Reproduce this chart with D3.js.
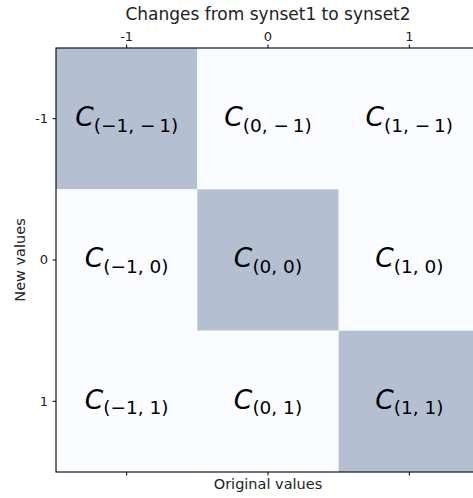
<!DOCTYPE html>
<html>
<head>
<meta charset="utf-8">
<script src="https://cdn.jsdelivr.net/npm/d3@7"></script>
<style>
	body { margin: 0; background: #fff; }
	text { font-family: 'DejaVu Sans', sans-serif; fill: #222; }
	.axis path, .axis line { stroke: #000; }
</style>
</head>
<body>
<svg width="473" height="498"></svg>
<script>
// categories on both axes
const origValues = [-1, 0, 1];
const newValues = [-1, 0, 1];
const tickLabels = ['-1', '0', '1'];
// cell value: 1 on the diagonal (unchanged), 0 otherwise
const cellValues = [
	[1, 0, 0],
	[0, 1, 0],
	[0, 0, 1]
];
const titleText = 'Changes from synset1 to synset2';
const xLabel = 'Original values';
const yLabel = 'New values';

const svg = d3.select('svg');
const margin = {top: 48, left: 56};
const size = 424;

const x = d3.scaleBand().domain(origValues).range([0, size]);
const y = d3.scaleBand().domain(newValues).range([0, size]);
const color = d3.scaleLinear().domain([0, 1]).range(['#fafcff', '#b4bfd2']);

const g = svg.append('g')
	.attr('transform', 'translate(' + margin.left + ',' + margin.top + ')');

const cells = [];
newValues.forEach((nv, i) => {
	origValues.forEach((ov, j) => {
		cells.push({o: ov, n: nv, v: cellValues[i][j]});
	});
});

g.selectAll('rect.cell')
	.data(cells)
	.enter().append('rect')
	.attr('class', 'cell')
	.attr('x', d => x(d.o))
	.attr('y', d => y(d.n))
	.attr('width', x.bandwidth())
	.attr('height', y.bandwidth())
	.attr('fill', d => color(d.v));

// mathtext-like: leading minus is unary, the one after the comma gets operator spacing
const fmt = (v, second) => v < 0 ? (second ? '\u2212\u2009' + (-v) : '\u2212' + (-v)) : String(v);

const labels = g.selectAll('text.cell-label')
	.data(cells)
	.enter().append('text')
	.attr('class', 'cell-label')
	.attr('x', d => x(d.o) + x.bandwidth() / 2)
	.attr('y', d => y(d.n) + y.bandwidth() / 2 + 7.3)
	.attr('text-anchor', 'middle')
	.style('fill', '#000');

labels.append('tspan')
	.style('font-style', 'italic')
	.style('font-size', '26.5px')
	.text('C');
labels.append('tspan')
	.style('font-size', '18.5px')
	.attr('dy', 5.7)
	.text(d => '(' + fmt(d.o, false) + ', ' + fmt(d.n, true) + ')');

// axes
g.append('g')
	.attr('class', 'axis')
	.call(d3.axisTop(x).tickSize(3.5).tickSizeOuter(0).tickFormat(v => tickLabels[origValues.indexOf(v)]))
	.call(a => a.select('.domain').remove())
	.selectAll('text').style('font-size', '13px').attr('y', -7);

g.append('g')
	.attr('class', 'axis')
	.attr('transform', 'translate(0,' + size + ')')
	.call(d3.axisBottom(x).tickSize(3.5).tickSizeOuter(0).tickFormat(''))
	.call(a => a.select('.domain').remove());

g.append('g')
	.attr('class', 'axis')
	.call(d3.axisLeft(y).tickSize(3.5).tickSizeOuter(0).tickFormat(v => tickLabels[newValues.indexOf(v)]))
	.call(a => a.select('.domain').remove())
	.selectAll('text').style('font-size', '13px').attr('x', -8);

// frame
g.append('rect')
	.attr('width', size)
	.attr('height', size)
	.attr('fill', 'none')
	.attr('stroke', '#000')
	.attr('stroke-width', 1.1);

svg.append('text')
	.attr('x', margin.left + size / 2)
	.attr('y', 20)
	.attr('text-anchor', 'middle')
	.style('font-size', '17px')
	.text(titleText);

svg.append('text')
	.attr('x', margin.left + size / 2)
	.attr('y', 489)
	.attr('text-anchor', 'middle')
	.style('font-size', '14.5px')
	.text(xLabel);

svg.append('text')
	.attr('transform', 'translate(24.5,' + (margin.top + size / 2) + ') rotate(-90)')
	.attr('text-anchor', 'middle')
	.style('font-size', '14.5px')
	.text(yLabel);
</script>
</body>
</html>
